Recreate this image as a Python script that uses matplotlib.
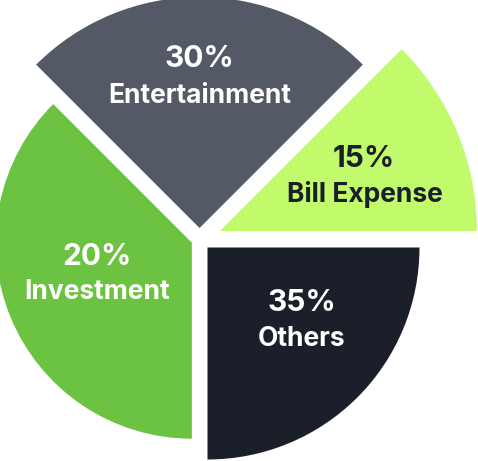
import numpy as np
import matplotlib.pyplot as plt
from matplotlib.patches import Wedge

# === data (counter-clockwise from 3 o'clock)
labels = ["Bill Expense", "Entertainment", "Investment", "Others"]
percent = [15, 30, 20, 35]
sweep = [12.5, 25, 37.5, 25]          # share of the circle each slice covers
reach = [257, 231, 196, 212]          # slice radius, px

colors = ["#C1FA6B", "#545966", "#6CC241", "#1B1F29"]
text_colors = ["#1B1F29", "white", "white", "white"]
push = [22.2, 11.5, 8.3, 11.3]        # explode distance along the bisector, px
center = np.array([199.5, 221.5])

# label centres (x, y from bottom)
pct_pos = [(364, 302), (199, 402), (97, 204), (302, 158)]
name_pos = [(365, 266), (200, 365), (97, 169), (302, 122)]

plt.rcParams["font.family"] = ["Inter", "DejaVu Sans"]

fig = plt.figure(figsize=(4.78, 4.61), dpi=100)
ax = fig.add_axes([0, 0, 1, 1])

edges = np.concatenate([[0], np.cumsum(sweep)]) / 100 * 360
for i, lab in enumerate(labels):
    t1, t2 = edges[i], edges[i + 1]
    mid = np.radians((t1 + t2) / 2)
    c = center + push[i] * np.array([np.cos(mid), np.sin(mid)])
    ax.add_patch(Wedge(c, reach[i], t1, t2, facecolor=colors[i], edgecolor="none"))
    ax.text(*pct_pos[i], f"{percent[i]}%", ha="center", va="center",
            fontsize=21.5, fontweight="bold", color=text_colors[i])
    ax.text(*name_pos[i], lab, ha="center", va="center",
            fontsize=19, fontweight="bold", color=text_colors[i])

ax.set_xlim(0, 478)
ax.set_ylim(0, 461)
ax.set_aspect("equal")
ax.axis("off")

fig.savefig("out.png", dpi=100)
